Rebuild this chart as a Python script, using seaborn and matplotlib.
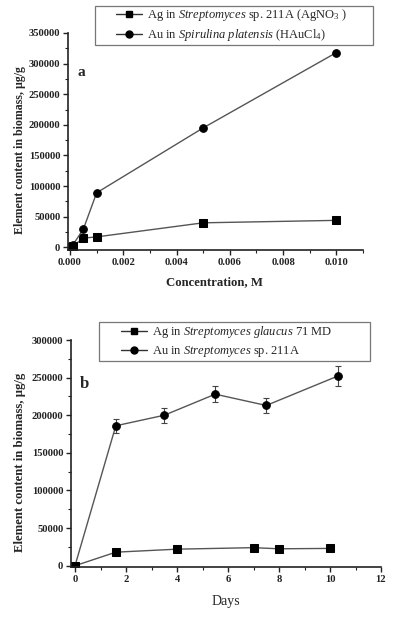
import numpy as np
import pandas as pd
import matplotlib
matplotlib.use("Agg")
import matplotlib.pyplot as plt
import seaborn as sns
from matplotlib.lines import Line2D
from matplotlib.patches import Rectangle
from matplotlib.ticker import MultipleLocator, FormatStrFormatter

# ---- data (panel a) ----
conc = [0.0, 0.0001, 0.0005, 0.001, 0.005, 0.010]
ag_conc = [0, 1500, 15000, 17000, 40000, 44000]
au_conc = [-1000, 3500, 29500, 89000, 195000, 318000]

# ---- data (panel b) ----
ag_days = [0, 1.6, 4, 7, 8, 10]
ag_days_val = [0, 18000, 22000, 24000, 22500, 23000]
au_days = [0, 1.6, 3.5, 5.5, 7.5, 10.3]
au_days_val = [0, 186000, 200000, 228000, 213000, 252000]
au_days_err = [0, 9500, 10000, 11000, 10500, 13000]

legend_a = [r"Ag in $\mathit{Streptomyces}$ sp. 211A (AgNO$_{3}$ )",
            r"Au in $\mathit{Spirulina}$ $\mathit{platensis}$ (HAuCl$_{4}$)"]
legend_b = [r"Ag in $\mathit{Streptomyces}$ $\mathit{glaucus}$ 71 MD",
            r"Au in $\mathit{Streptomyces}$ sp. 211A"]
ylabel = "Element content in biomass, µg/g"

sns.set_style("ticks")
plt.rcParams['font.family'] = ['Liberation Serif', 'DejaVu Serif']
plt.rcParams['mathtext.fontset'] = 'custom'
plt.rcParams['mathtext.rm'] = 'Liberation Serif'
plt.rcParams['mathtext.it'] = 'Liberation Serif:italic'
plt.rcParams['mathtext.bf'] = 'Liberation Serif:bold'

W, H = 395, 617
fig = plt.figure(figsize=(W / 100, H / 100), dpi=100)

def fx(px):
    return px / W

def fy(py):
    return 1 - py / H

LINE = '#555555'
kw = dict(color=LINE, linewidth=1.0, markerfacecolor='black',
          markeredgecolor='black', markersize=5.5, errorbar=None)

def style_axis(ax):
    sns.despine(ax=ax)
    for s in ('left', 'bottom'):
        ax.spines[s].set_linewidth(1.2)
        ax.spines[s].set_color('#222222')
    ax.tick_params(which='major', direction='out', length=3.5, width=1,
                   labelsize=7.6, pad=2, colors='#222222')
    ax.tick_params(which='minor', direction='out', length=2, width=0.8,
                   colors='#222222')
    for lab in ax.get_xticklabels() + ax.get_yticklabels():
        lab.set_fontweight('bold')

# ---------- panel a ----------
axa = fig.add_axes([fx(68), fy(250), fx(363) - fx(68), fy(33) - fy(250)])
dfa = pd.DataFrame({'x': conc, 'ag': ag_conc, 'au': au_conc})
sns.lineplot(data=dfa, x='x', y='ag', marker='s', ax=axa, **kw)
sns.lineplot(data=dfa, x='x', y='au', marker='o', ax=axa, **kw)
axa.set_xlim(-0.000075, 0.011)
axa.set_ylim(-4400, 350000)
axa.xaxis.set_major_locator(MultipleLocator(0.002))
axa.xaxis.set_minor_locator(MultipleLocator(0.001))
axa.yaxis.set_major_locator(MultipleLocator(50000))
axa.yaxis.set_minor_locator(MultipleLocator(25000))
axa.xaxis.set_major_formatter(FormatStrFormatter('%.3f'))
axa.yaxis.set_major_formatter(FormatStrFormatter('%d'))
axa.set_xlabel('')
axa.set_ylabel('')
style_axis(axa)

# ---------- panel b ----------
axb = fig.add_axes([fx(71), fy(567.3), fx(381) - fx(71), fy(340) - fy(567.3)])
dfb_ag = pd.DataFrame({'x': ag_days, 'y': ag_days_val})
dfb_au = pd.DataFrame({'x': au_days, 'y': au_days_val})
axb.errorbar(au_days, au_days_val, yerr=au_days_err, fmt='none',
             ecolor='#444444', elinewidth=0.8, capsize=2, capthick=0.8)
sns.lineplot(data=dfb_ag, x='x', y='y', marker='s', ax=axb, **kw)
sns.lineplot(data=dfb_au, x='x', y='y', marker='o', ax=axb, **kw)
axb.set_xlim(-0.157, 12)
axb.set_ylim(-2100, 300000)
axb.xaxis.set_major_locator(MultipleLocator(2))
axb.xaxis.set_minor_locator(MultipleLocator(1))
axb.yaxis.set_major_locator(MultipleLocator(50000))
axb.yaxis.set_minor_locator(MultipleLocator(25000))
axb.xaxis.set_major_formatter(FormatStrFormatter('%d'))
axb.yaxis.set_major_formatter(FormatStrFormatter('%d'))
axb.set_xlabel('')
axb.set_ylabel('')
style_axis(axb)

# ---------- labels ----------
fig.text(fx(20), fy(150), ylabel, rotation=90, ha='center', va='center',
         fontsize=8.6, fontweight='bold')
fig.text(fx(20), fy(462), ylabel, rotation=90, ha='center', va='center',
         fontsize=9.2, fontweight='bold')
fig.text(fx(215), fy(282), 'Concentration, M', ha='center', va='center',
         fontsize=9.2, fontweight='bold')
fig.text(fx(226), fy(601), 'Days', ha='center', va='center', fontsize=10)
fig.text(fx(81), fy(73), 'a', ha='center', va='center', fontsize=11,
         fontweight='bold')
fig.text(fx(84), fy(384), 'b', ha='center', va='center', fontsize=12,
         fontweight='bold')

# ---------- legends ----------
def handles():
    return [Line2D([0], [0], color='#333333', lw=1, marker='s', mfc='k',
                   mec='k', ms=5),
            Line2D([0], [0], color='#333333', lw=1, marker='o', mfc='k',
                   mec='k', ms=5)]

fig.legend(handles(), legend_a, loc='center left',
           bbox_to_anchor=(fx(115.7), fy(25.3)), frameon=False, borderpad=0,
           borderaxespad=0, handlelength=2.1, handletextpad=0.4,
           labelspacing=0.3, fontsize=9)
fig.patches.append(Rectangle((fx(95), fy(45)), fx(373) - fx(95),
                             fy(5.7) - fy(45), transform=fig.transFigure,
                             fill=False, edgecolor='#777777', lw=0.9))

fig.legend(handles(), legend_b, loc='center left',
           bbox_to_anchor=(fx(121), fy(341.5)), frameon=False, borderpad=0,
           borderaxespad=0, handlelength=2.1, handletextpad=0.4,
           labelspacing=0.3, fontsize=9)
fig.patches.append(Rectangle((fx(99), fy(360.7)), fx(370) - fx(99),
                             fy(322) - fy(360.7), transform=fig.transFigure,
                             fill=False, edgecolor='#777777', lw=0.9))

fig.savefig('out.png', dpi=100)
